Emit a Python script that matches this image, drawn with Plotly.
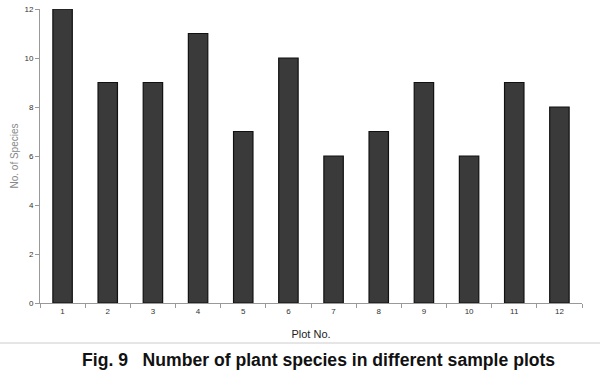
import plotly.graph_objects as go

plots = ["1", "2", "3", "4", "5", "6", "7", "8", "9", "10", "11", "12"]
species = [12, 9, 9, 11, 7, 10, 6, 7, 9, 6, 9, 8]
yticks = [0, 2, 4, 6, 8, 10, 12]

W, HGT = 600, 377
LEFT, RIGHT, TOP, BOT = 40, 582, 9, 303
H = float(BOT - TOP)
def py(pix):
    return (BOT - pix) / H

fig = go.Figure(go.Bar(
    x=plots, y=species,
    marker=dict(color="#3a3a3a", line=dict(color="#111111", width=1.2)),
))

fig.update_layout(
    width=W, height=HGT,
    margin=dict(l=LEFT, r=W - RIGHT, t=TOP, b=HGT - BOT, autoexpand=False),
    paper_bgcolor="white", plot_bgcolor="white",
    bargap=0.57,
    showlegend=False,
    font=dict(family="Liberation Sans, Arial", color="#333"),
    xaxis=dict(
        type="category", tickson="boundaries", ticks="outside", ticklen=4,
        tickcolor="#999", showline=True, linecolor="#999", linewidth=1,
        tickfont=dict(size=8, color="#333"), showgrid=False, automargin=False,
        title=dict(text="Plot No.", font=dict(size=11, color="#222"), standoff=15),
    ),
    yaxis=dict(
        range=[0, 12], tickvals=yticks, ticks="outside", ticklen=4,
        tickcolor="#999", showline=True, linecolor="#999", linewidth=1,
        tickfont=dict(size=8, color="#333"), showgrid=False, zeroline=False,
        automargin=False,
        title=dict(text="No. of Species", font=dict(size=10, color="#888"), standoff=3),
    ),
    shapes=[dict(type="line", xref="paper", yref="paper",
                 x0=-0.1, x1=1.1, y0=py(343), y1=py(343),
                 line=dict(color="#ccc", width=1))],
    annotations=[dict(text="<b>Fig. 9   Number of plant species in different sample plots</b>",
                      xref="paper", yref="paper", x=(318 - 40) / 542.0, y=py(360),
                      xanchor="center", yanchor="middle", showarrow=False,
                      font=dict(size=17.6, color="#111", family="Liberation Sans, Arial"))],
)

fig.write_html("out.html",
               config={"displayModeBar": False},
               post_script="document.body.style.margin='0';document.body.style.overflow='hidden';")
